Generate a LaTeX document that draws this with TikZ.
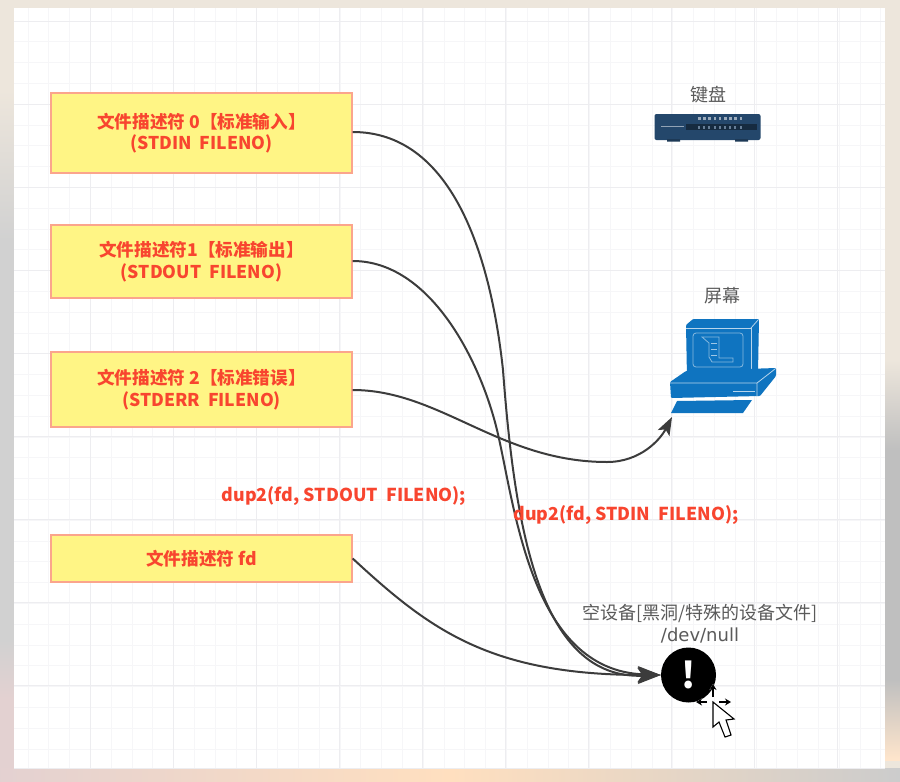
\documentclass[tikz,border=0pt]{standalone}
\usepackage{fontspec}
\setmainfont{Noto Sans CJK SC}
\newfontfamily\devfont{DejaVu Sans}
\usetikzlibrary{arrows.meta, positioning}
\definecolor{boxfill}{HTML}{FFF585}
\definecolor{boxline}{HTML}{FBA58C}
\definecolor{redtext}{HTML}{F8452F}
\definecolor{graytext}{HTML}{5A5A5A}
\definecolor{linegray}{HTML}{3C3C3C}
\definecolor{gridminor}{HTML}{F6F6F8}
\definecolor{gridmajor}{HTML}{EDEDF0}
\definecolor{swblue}{HTML}{24476B}
\definecolor{pcblue}{HTML}{0F74C0}
\definecolor{wall}{HTML}{EDE6DC}
\tikzset{
  fdbox/.style={draw=boxline, line width=1.4pt, fill=boxfill, minimum width=301pt,
    text=redtext, font=\fontsize{17.6}{21.5}\selectfont\bfseries, align=center, inner sep=0pt},
  duplabel/.style={text=redtext, font=\fontsize{17.8}{21}\selectfont\bfseries, inner sep=0pt},
  devlabel/.style={text=graytext, font=\fontsize{18}{22}\selectfont, align=center, inner sep=0pt},
  conn/.style={draw=linegray, line width=2pt, -{Stealth[length=23pt,width=16pt,inset=5pt]}},
  moveptr/.style={black, line width=1.5pt, preaction={draw=white, line width=3pt}, -{Stealth[length=6pt,width=7pt]}},
}
\begin{document}
\begin{tikzpicture}[x=1pt,y=-1pt]
  \useasboundingbox (0,0) rectangle (900,782);
  % wallpaper behind the board
  \fill[wall] (0,0) rectangle (900,782);
  \shade[top color=wall, bottom color=black!18] (0,90) rectangle (14,240);
  \fill[black!18] (0,240) rectangle (14,640);
  \shade[top color=black!18, bottom color=red!40!black!18] (0,640) rectangle (14,700);
  \fill[red!40!black!18] (0,700) rectangle (14,782);
  \shade[top color=wall, bottom color=black!25] (885,360) rectangle (900,450);
  \fill[black!25] (885,450) rectangle (900,680);
  \shade[top color=black!25, bottom color=orange!20] (885,680) rectangle (900,760);
  \shade[left color=red!40!black!18, right color=orange!25] (0,768) rectangle (450,782);
  \shade[left color=orange!25, right color=black!20] (450,768) rectangle (900,782);
  \fill[white] (14,8) rectangle (885,768);
  % grid
  \foreach \gx in {28,48.8,...,885}
    \draw[gridminor, line width=.8pt] (\gx,8) -- (\gx,768);
  \foreach \gy in {21,41.8,...,768}
    \draw[gridminor, line width=.8pt] (14,\gy) -- (885,\gy);
  \foreach \gx in {90,173,...,885}
    \draw[gridmajor, line width=.8pt] (\gx,8) -- (\gx,768);
  \foreach \gy in {21,104,...,768}
    \draw[gridmajor, line width=.8pt] (14,\gy) -- (885,\gy);

  \node[fdbox, minimum height=80pt] (fd0) at (201.5,133) {文件描述符 0【标准输入】\\(STDIN\ \ FILENO)};
  \node[fdbox, minimum height=73pt] (fd1) at (201.5,261.5) {文件描述符1【标准输出】\\(STDOUT\ \ FILENO)};
  \node[fdbox, minimum height=75pt] (fd2) at (201.5,389.5) {文件描述符 2【标准错误】\\(STDERR\ \ FILENO)};
  \node[fdbox, minimum height=47pt] (fdn) at (201.5,558.5) {文件描述符 fd};

  \node[devlabel] (kbdlabel) at (708,94.5) {键盘};
  \node[devlabel] (scrlabel) at (722,295.5) {屏幕};
  \node[devlabel] (nulllabel) at (700,624) {空设备[黑洞/特殊的设备文件]\\{\devfont /dev/null}};

  % keyboard
  \node[fill=swblue, rounded corners=2pt, minimum width=106pt, minimum height=26pt, inner sep=0pt] (kbd) at (707.5,127) {};
  \fill[swblue!80!black] (667,139) rectangle (680,141.5) (735,139) rectangle (748,141.5);
  \fill[swblue!60!black] (686,124) rectangle (757,130);
  \draw[white!50!swblue, line width=1pt] (661,126.5) -- (684,126.5);
  \foreach \kx in {698,703.2,...,744} {
    \fill[white!55!swblue] (\kx,116.5) rectangle +(2.5,3.5);
    \fill[white!30!swblue] (\kx,125.5) rectangle +(2,3);
  }

  % screen
  \coordinate (scr) at (672,417);
  \fill[pcblue, rounded corners=1pt] (686,325) -- (693,319) -- (759,319) -- (758,373) -- (752,378) -- (687,378) -- cycle;
  \draw[white!70!pcblue, line width=.8pt] (686,328) -- (751,328) -- (751,374);
  \draw[white!70!pcblue, line width=.8pt] (751,328) -- (758,320);
  \draw[white!50!pcblue, line width=.8pt, rounded corners=3pt] (693,333) rectangle (743,367);
  \draw[white!50!pcblue, line width=.8pt] (702,337) -- (719,337) -- (719,358) -- (733,358) -- (733,362) -- (712,362) -- (709,357) -- (709,343) -- cycle;
  \foreach \ly in {343,349,355}
    \draw[white!60!pcblue, line width=1pt] (711,\ly) -- (717,\ly);
  \fill[pcblue, rounded corners=1pt] (670,382) -- (686,371) -- (776,368) -- (776,376) -- (760,396) -- (671,398) -- cycle;
  \draw[white!70!pcblue, line width=.8pt] (670,383) -- (757,383) -- (775,369) (757,383) -- (757,396);
  \draw[white!70!pcblue, line width=1pt] (733,391) -- (755,391);
  \fill[pcblue] (677,401) -- (752,400) -- (743,413) -- (671,413) -- cycle;

  % null device
  \node[circle, fill=black, minimum size=55pt, inner sep=0pt, text=white,
    font=\fontsize{36}{36}\selectfont\bfseries] (null) at (688.5,675) {!};

  \draw[conn] (fd0.east |- 0,132) .. controls (450,132) and (490,250) .. (503,370)
    .. controls (515,530) and (540,680) .. (null.west);
  \draw[conn] (fd1.east |- 0,261) .. controls (430,261) and (480,360) .. (497,430)
    .. controls (515,505) and (530,670) .. (null.west);
  \draw[conn, -{Stealth[length=18pt,width=13pt,inset=4pt]}] (fd2.east |- 0,390) .. controls (440,390) and (500,462) .. (607,462)
    .. controls (640,462) and (660,440) .. (scr);
  \draw[conn] (fdn.east) .. controls (430,630) and (490,675) .. (null.west);

  \node[duplabel] (dupout) at (344,496.5) {dup2(fd, STDOUT\ \ FILENO);};
  \node[duplabel] (dupin) at (626,515.5) {dup2(fd, STDIN\ \ FILENO);};

  % mouse pointer
  \draw[moveptr] (707,702) -- (696,702);
  \draw[moveptr] (719,702) -- (731,702);
  \draw[moveptr] (713,697) -- (713,684);
  \fill[white, draw=black, line width=1.1pt] (713,702) -- (713,727) -- (719,722) -- (725,737) -- (731,735) -- (726,720) -- (734,719) -- cycle;
\end{tikzpicture}
\end{document}
